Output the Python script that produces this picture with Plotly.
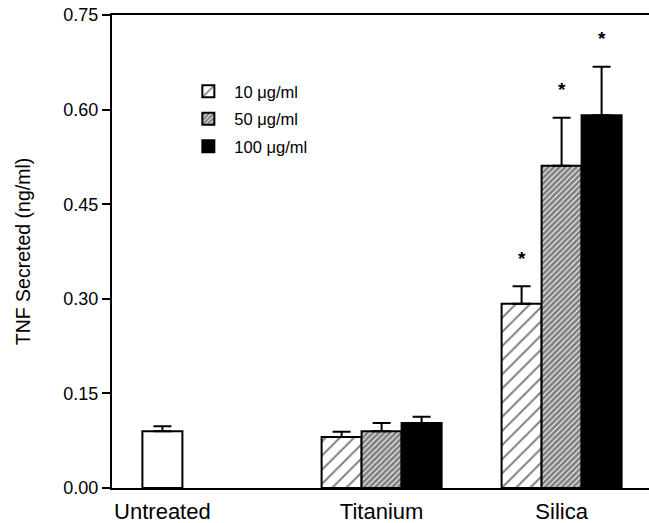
import plotly.graph_objects as go

# ---- data ----
groups = ["Untreated", "Titanium", "Silica"]
doses = ["10 \u03bcg/ml", "50 \u03bcg/ml", "100 \u03bcg/ml"]

untreated_value = [0.090]
untreated_err = [0.008]

# values per dose for [Titanium, Silica]
dose10_values = [0.081, 0.292]
dose10_err = [0.008, 0.028]
dose50_values = [0.090, 0.511]
dose50_err = [0.013, 0.076]
dose100_values = [0.103, 0.591]
dose100_err = [0.010, 0.077]

significant = {  # star markers (dose index -> flags for [Titanium, Silica])
    0: [False, True],
    1: [False, True],
    2: [False, True],
}

yticks = [0.00, 0.15, 0.30, 0.45, 0.60, 0.75]

# ---- layout helpers (axis in units of bar width) ----
group_centers = [1.26, 6.74, 11.24]
bar_w = 1.0
treated_centers = group_centers[1:]

fig = go.Figure()

fig.add_trace(go.Bar(
    x=[group_centers[0]], y=untreated_value, width=bar_w,
    marker=dict(color="white", line=dict(color="black", width=2)),
    error_y=dict(type="data", array=untreated_err, arrayminus=[0],
                 symmetric=False, thickness=2, width=9, color="black"),
    showlegend=False,
))

patterns = [
    dict(shape="/", fgcolor="black", bgcolor="white", size=10, solidity=0.2),
    dict(shape="/", fgcolor="black", bgcolor="white", size=4, solidity=0.72),
    dict(shape="", fgcolor="black", bgcolor="black"),
]
colors = ["white", "white", "black"]
vals = [dose10_values, dose50_values, dose100_values]
errs = [dose10_err, dose50_err, dose100_err]

for i in range(3):
    xs = [c + (i - 1) * bar_w for c in treated_centers]
    fig.add_trace(go.Bar(
        x=xs, y=vals[i], width=bar_w, name=doses[i], legendgroup=f"g{i}",
        marker=dict(color=colors[i], pattern=patterns[i],
                    line=dict(color="black", width=2)),
        error_y=dict(type="data", array=errs[i], arrayminus=[0] * len(errs[i]),
                     symmetric=False, thickness=2, width=9, color="black"),
    ))
    for j, flag in enumerate(significant[i]):
        if flag:
            fig.add_annotation(
                x=xs[j], y=vals[i][j] + errs[i][j], text="<b>*</b>",
                showarrow=False, yshift=28,
                font=dict(size=19, color="black", family="Liberation Sans, Arial"),
            )

fig.update_layout(
    width=649, height=523,
    margin=dict(l=112, r=0, t=15, b=35, autoexpand=False),
    paper_bgcolor="white", plot_bgcolor="white",
    barmode="overlay",
    font=dict(family="Liberation Sans, Arial, sans-serif", color="black"),
    legend=dict(
        x=0.131, y=0.875, xanchor="left", yanchor="top",
        font=dict(size=16.5), bgcolor="rgba(0,0,0,0)",
        traceorder="grouped", tracegroupgap=3, itemwidth=42,
    ),
    xaxis=dict(
        range=[0, 13.425], showgrid=False, zeroline=False,
        showline=True, linecolor="black", linewidth=2, mirror=True,
        tickvals=group_centers, ticktext=groups, ticks="",
        tickfont=dict(size=22), ticklabelstandoff=3,
    ),
    yaxis=dict(
        range=[0, 0.75], showgrid=False, zeroline=False,
        showline=True, linecolor="black", linewidth=2,
        tickvals=yticks, tickformat=".2f", ticks="outside",
        ticklen=8, tickwidth=2, tickcolor="black",
        tickfont=dict(size=18), ticklabeloverflow="allow",
        title=dict(text="TNF Secreted (ng/ml)", font=dict(size=19.5), standoff=28),
    ),
)

fig.write_html("out.html", config={"displayModeBar": False},
               post_script="document.body.style.margin='0';")
